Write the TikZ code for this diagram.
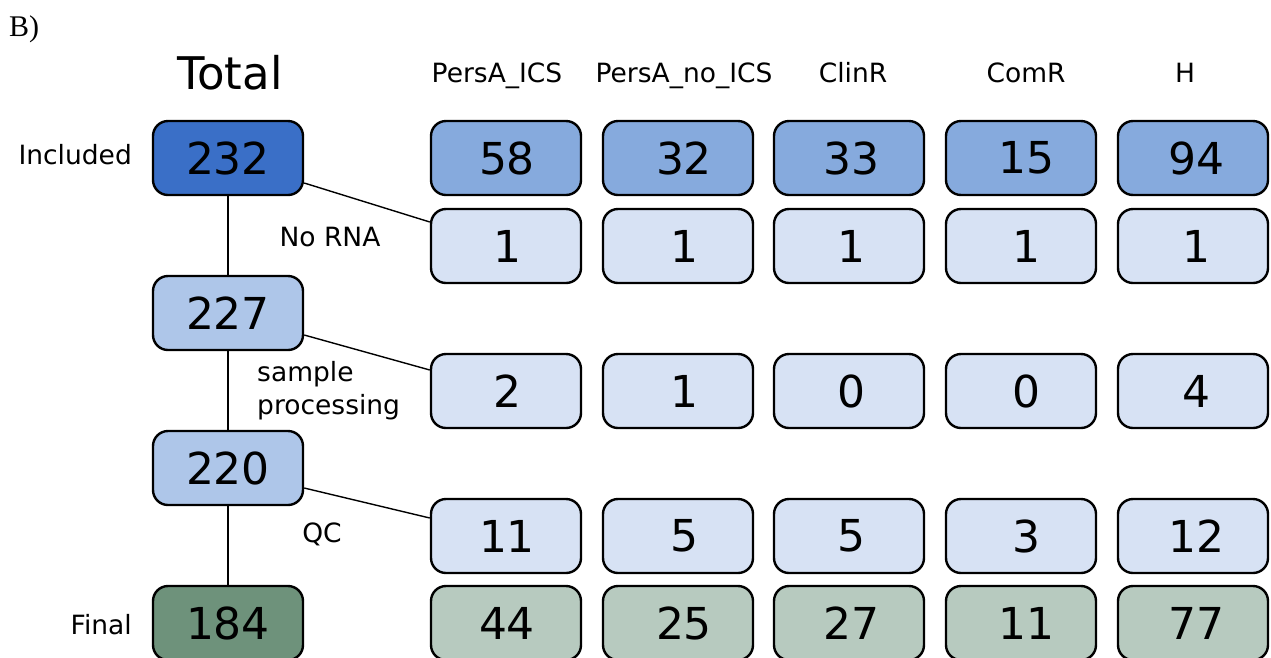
\documentclass[tikz,border=0pt]{standalone}
\usepackage{fontspec}
\setmainfont{DejaVu Sans}
\newfontfamily\serifB{Liberation Serif}
\definecolor{cDark}{HTML}{3A6FC7}
\definecolor{cMid}{HTML}{86AADD}
\definecolor{cTot}{HTML}{AEC6E9}
\definecolor{cPale}{HTML}{D7E2F4}
\definecolor{gDark}{HTML}{6E927B}
\definecolor{gPale}{HTML}{B7CABF}
\tikzset{
  numbox/.style={draw=black, line width=2.4pt, rounded corners=15pt,
    minimum width=150pt, minimum height=74pt, inner sep=0pt,
    font=\fontsize{44}{44}\selectfont},
  hdr/.style={font=\fontsize{26.5}{26.5}\selectfont, inner sep=0pt},
  lbl/.style={font=\fontsize{26.5}{26.5}\selectfont, inner sep=0pt},
  conn/.style={line width=1.4pt, black}
}
\begin{document}
\begin{tikzpicture}[x=1pt,y=-1pt]
\useasboundingbox (0,0) rectangle (1271,657);
\node[anchor=base west, inner sep=0pt, font=\serifB\fontsize{30}{30}\selectfont] (B) at (9,36) {B)};
% headers
\node[font=\fontsize{45}{45}\selectfont, inner sep=0pt, anchor=base] (hT) at (230,89) {Total};
\node[hdr, anchor=base] (h1) at (497,82) {PersA\_ICS};
\node[hdr, anchor=base] (h2) at (684,82) {PersA\_no\_ICS};
\node[hdr, anchor=base] (h3) at (853,82) {ClinR};
\node[hdr, anchor=base] (h4) at (1026,82) {ComR};
\node[hdr, anchor=base] (h5) at (1185,82) {H};
% total column
\node[numbox, fill=cDark] (t1) at (228,158) {232};
\node[numbox, fill=cTot] (t2) at (228,313) {227};
\node[numbox, fill=cTot] (t3) at (228,468) {220};
\node[numbox, fill=gDark] (t4) at (228,623) {184};
% row labels
\node[lbl, anchor=base east] (lInc) at (132,164) {Included};
\node[lbl, anchor=base east] (lFin) at (132,634) {Final};
\node[lbl, anchor=base] (lNo) at (330,246) {No RNA};
\node[lbl, anchor=north west, align=left, font=\fontsize{26.5}{33}\selectfont] (lSP) at (257,361) {sample\\processing};
\node[lbl, anchor=base] (lQC) at (322,542) {QC};
% category boxes
\foreach \c/\x/\s/\a/\b/\d/\e/\f in {1/506/2/58/1/2/11/44, 2/678/12/32/1/1/5/25, 3/849/4/33/1/0/5/27, 4/1021/10/15/1/0/3/11, 5/1193/6/94/1/4/12/77}{
  \node[numbox, fill=cMid]  (r1c\c) at (\x,158) {\hspace*{\s pt}\a};
  \node[numbox, fill=cPale] (r2c\c) at (\x,246) {\hspace*{\s pt}\b};
  \node[numbox, fill=cPale] (r3c\c) at (\x,391) {\hspace*{\s pt}\d};
  \node[numbox, fill=cPale] (r4c\c) at (\x,536) {\hspace*{\s pt}\e};
  \node[numbox, fill=gPale] (r5c\c) at (\x,623) {\hspace*{\s pt}\f};
}
% connectors
\draw[conn] (t1.south) -- (t2.north);
\draw[conn] (t2.south) -- (t3.north);
\draw[conn] (t3.south) -- (t4.north);
\draw[conn] ([yshift=-25pt]t1.east) -- ([yshift=24pt]r2c1.west);
\draw[conn] ([yshift=-22pt]t2.east) -- ([yshift=21pt]r3c1.west);
\draw[conn] ([yshift=-20pt]t3.east) -- ([yshift=18pt]r4c1.west);
\end{tikzpicture}
\end{document}
